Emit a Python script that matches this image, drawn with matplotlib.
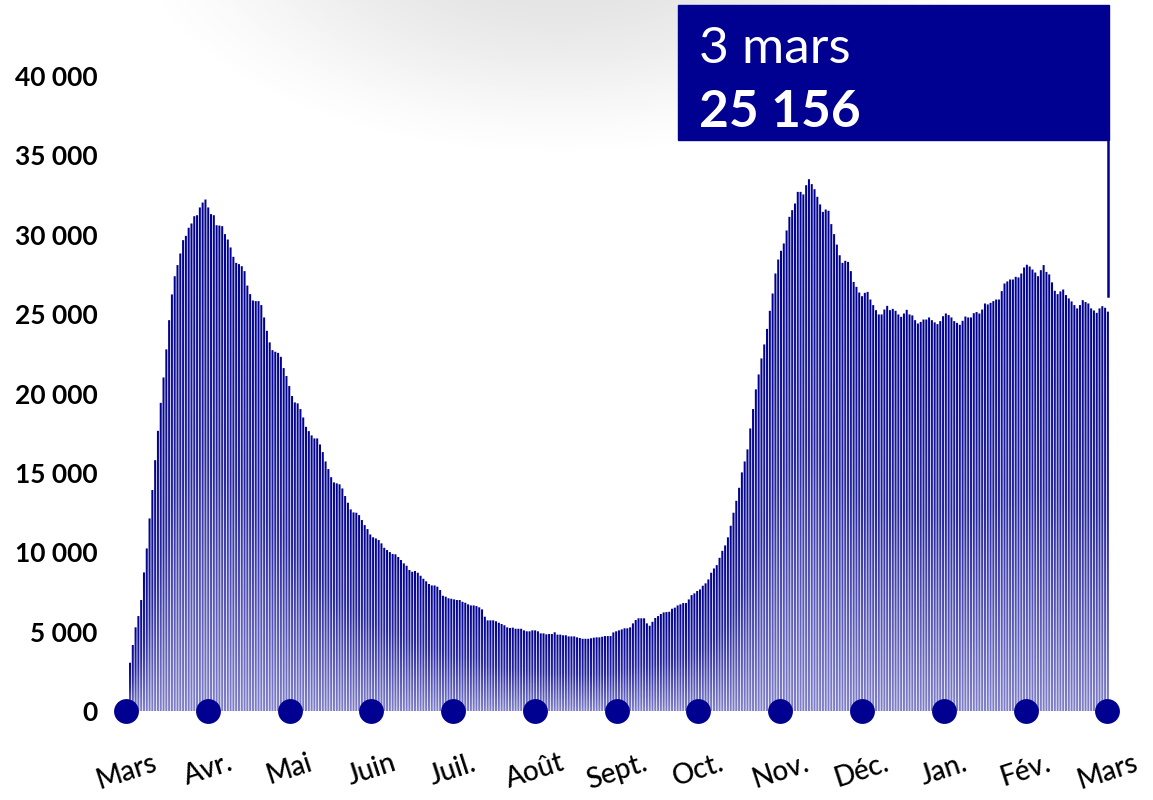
import datetime
import numpy as np
import matplotlib
matplotlib.use("Agg")
import matplotlib.pyplot as plt
from matplotlib.path import Path
from matplotlib.patches import PathPatch, Rectangle
from matplotlib.colors import LinearSegmentedColormap
from matplotlib import transforms

plt.rcParams['font.family'] = ['Lato', 'DejaVu Sans']

# Personnes hospitalisées, une valeur par jour depuis le 18 mars 2020
start_date = datetime.date(2020, 3, 18)
mars_2020 = [3040, 4156, 5270, 5980, 6990, 8730, 10240, 12130, 13920, 15800,
             17650, 19410, 21010, 22780]
avril = [24620, 26240, 27390, 28090, 28820, 29660, 29930, 30440, 30710, 31170,
         31230, 31720, 32030, 32220, 31720, 31300, 31230, 30600, 30580, 30540,
         30040, 29700, 29200, 28610, 28230, 28150, 28020, 27710, 26800, 26260]
mai = [25860, 25820, 25820, 25570, 24790, 23950, 23220, 22730, 22630, 22560,
       22310, 21600, 21100, 20470, 19840, 19440, 19380, 19020, 18490, 17900,
       17630, 17360, 17170, 17170, 16790, 16310, 15720, 15240, 14730, 14400, 14340]
juin = [14280, 14020, 13540, 13120, 12700, 12510, 12490, 12340, 12030, 11710,
        11460, 11120, 10940, 10870, 10770, 10560, 10280, 10140, 10010, 9890,
        9870, 9700, 9510, 9300, 9150, 8880, 8770, 8820, 8710, 8520]
juillet = [8330, 8170, 8000, 7910, 7910, 7830, 7620, 7260, 7200, 7100,
           7070, 7030, 6990, 6990, 6880, 6820, 6720, 6650, 6650, 6610,
           6530, 6400, 5940, 5710, 5710, 5710, 5650, 5560, 5480, 5400, 5270]
aout = [5230, 5250, 5180, 5180, 5180, 5080, 5020, 5020, 5080, 5080,
        5020, 4890, 4890, 4830, 4850, 4850, 4960, 4810, 4810, 4770,
        4770, 4700, 4700, 4700, 4640, 4600, 4550, 4550, 4550, 4580, 4620]
septembre = [4640, 4640, 4680, 4720, 4720, 4720, 4950, 5020, 5080, 5140,
             5210, 5210, 5270, 5520, 5730, 5840, 5840, 5840, 5520, 5370,
             5620, 5860, 5980, 6110, 6210, 6230, 6250, 6440, 6510, 6650]
octobre = [6720, 6800, 6800, 7030, 7300, 7410, 7560, 7660, 7890, 8040,
           8290, 8710, 8980, 9190, 9650, 10090, 10430, 10940, 11670, 12490,
           13240, 14060, 15030, 15720, 16480, 17800, 19020, 20260, 21200, 22210, 23090]
novembre = [24070, 25210, 26300, 27560, 28440, 28990, 29450, 30270, 31130, 31550,
            31970, 32700, 32700, 32540, 33120, 33500, 33190, 32870, 32390, 31910,
            31440, 31590, 31510, 30670, 30040, 29380, 28710, 28230, 28360, 28290]
decembre = [27710, 27030, 26720, 26360, 26130, 26340, 26400, 25920, 25570, 25250,
            24980, 24980, 25290, 25520, 25250, 25330, 25210, 24980, 24830, 25040,
            25270, 24980, 24920, 24620, 24410, 24510, 24660, 24660, 24790, 24620, 24480]
janvier = [24370, 24560, 24870, 25040, 24940, 24790, 24560, 24450, 24330, 24580,
           24850, 24790, 24790, 25060, 25130, 25040, 25290, 25670, 25610, 25710,
           25820, 25920, 25920, 26450, 26930, 27060, 27180, 27180, 27350, 27310, 27560]
fevrier = [27940, 28110, 28000, 27810, 27620, 27390, 27770, 28090, 27660, 27500,
           27000, 26470, 26260, 26430, 26550, 26200, 25990, 25800, 25570, 25360,
           25570, 25880, 25760, 25670, 25360, 25230, 25080, 25360]
mars_2021 = [25500, 25400, 25156]

months = ['Mars', 'Avr.', 'Mai', 'Juin', 'Juil.', 'Août', 'Sept.', 'Oct.',
          'Nov.', 'Déc.', 'Jan.', 'Fév.', 'Mars']
yticks = [0, 5000, 10000, 15000, 20000, 25000, 30000, 35000, 40000]
mois_fr = ['janvier', 'février', 'mars', 'avril', 'mai', 'juin', 'juillet',
           'août', 'septembre', 'octobre', 'novembre', 'décembre']

values = np.array(mars_2020 + avril + mai + juin + juillet + aout + septembre
                  + octobre + novembre + decembre + janvier + fevrier + mars_2021)
n = len(values)
x = np.arange(n)

BLUE = '#000091'
W, H = 1153, 800
fig = plt.figure(figsize=(W / 100, H / 100), dpi=100)

# light grey shadow at the top
bg = fig.add_axes([0, 0, 1, 1], zorder=-10)
bg.axis('off')
yy, xx = np.mgrid[0:H, 0:W]
d = ((xx - 560) / 440) ** 2 + ((yy + 70) / 230) ** 2
shade = np.zeros((H, W, 4))
shade[..., :3] = 0.45
shade[..., 3] = np.clip(1 - d, 0, 1) ** 1.6 * 0.22
bg.imshow(shade, extent=(0, W, H, 0), interpolation='bilinear')
bg.set_xlim(0, W)
bg.set_ylim(H, 0)

ax = fig.add_axes([110 / W, 89 / H, 1020 / W, 711 / H])
ax.patch.set_alpha(0)
ax.set_xlim(-20 / 2.794, 1000 / 2.794)
ymax = 711 / 635 * 40000
ax.set_ylim(0, ymax)

# bars with vertical gradient (dark on top, lighter at bottom)
bw = 0.72
verts, codes = [], []
for i, v in zip(x, values):
    verts += [(i - bw / 2, 0), (i + bw / 2, 0), (i + bw / 2, v), (i - bw / 2, v), (i - bw / 2, 0)]
    codes += [Path.MOVETO, Path.LINETO, Path.LINETO, Path.LINETO, Path.CLOSEPOLY]
clip = PathPatch(Path(verts, codes), transform=ax.transData, facecolor='none', edgecolor='none')
ys = np.linspace(0, ymax, 800)
grad = np.clip(ys[:, None] / values[None, :], 0, 1)
cmap = LinearSegmentedColormap.from_list('barres', ['#8080ca', '#2525a0', BLUE])
im = ax.imshow(grad, origin='lower', extent=(-0.5, n - 0.5, 0, ymax), aspect='auto',
               cmap=cmap, vmin=0, vmax=1, interpolation='nearest')
im.set_clip_path(clip)

# month dots
dot_pos = np.linspace(-1.4, n - 1.2, len(months))
ax.scatter(dot_pos, np.zeros(len(months)), s=320, color=BLUE, zorder=5, clip_on=False, linewidths=0)

ax.set_xticks(dot_pos)
ax.set_xticklabels(months, rotation=18, fontsize=20, fontweight='medium')
ax.tick_params(axis='x', length=0, pad=28)
ax.set_yticks(yticks)
ax.set_yticklabels([f'{v:,}'.replace(',', ' ') for v in yticks], fontsize=19, fontweight='bold')
ax.tick_params(axis='y', length=0, pad=9)
for s in ax.spines.values():
    s.set_visible(False)

# highlight box for last day
last_date = start_date + datetime.timedelta(days=n - 1)
last_val = values[-1]
trans = transforms.blended_transform_factory(ax.transData, fig.transFigure)
box_bottom, box_top = 1 - 140 / H, 1 - 5 / H
box_left = n - 1 - 154
ax.add_patch(Rectangle((box_left, box_bottom), n - 1 + 0.4 - box_left, box_top - box_bottom,
                       transform=trans, color=BLUE, clip_on=False, zorder=6))
ax.text(box_left + 7.5, 1 - 63 / H, f'{last_date.day} {mois_fr[last_date.month - 1]}',
        transform=trans, color='white', fontsize=37, fontweight='normal', zorder=7)
ax.text(box_left + 7.5, 1 - 127 / H, f'{last_val:,}'.replace(',', ' '),
        transform=trans, color='white', fontsize=37, fontweight='bold', zorder=7)
y_box = ax.transData.inverted().transform(fig.transFigure.transform((0, box_bottom)))[1]
ax.plot([n - 1, n - 1], [last_val + 1000, y_box], color=BLUE, lw=1.8, zorder=6)

fig.savefig('out.png', dpi=100)
